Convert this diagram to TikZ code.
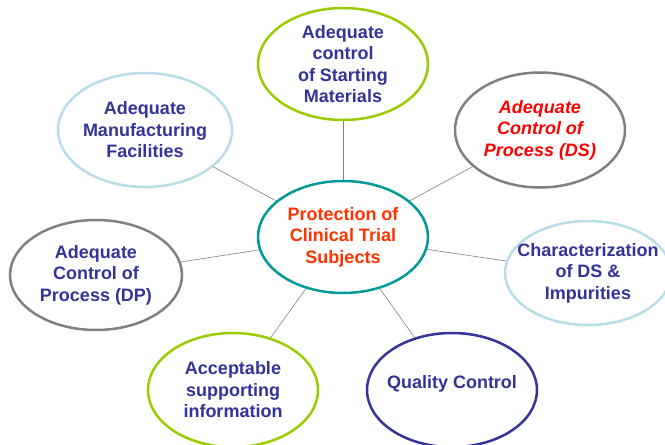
\documentclass[tikz,border=0pt]{standalone}
\usepackage{fontspec}
\setmainfont{Liberation Sans}
\usetikzlibrary{shapes.geometric}
\definecolor{navytext}{RGB}{51,51,153}
\definecolor{limering}{RGB}{153,204,0}
\definecolor{icering}{RGB}{183,222,232}
\definecolor{greyring}{RGB}{128,128,128}
\definecolor{tealring}{RGB}{0,153,153}
\definecolor{hottext}{RGB}{255,51,0}
\tikzset{
	x=1pt, y=-1pt, % coordinates read as pixels of the page
	every node/.style={font=\bfseries\fontsize{18}{21.5}\selectfont, align=center},
	bubble/.style={ellipse, draw, line width=2.5pt, inner xsep=-15pt, inner ysep=0pt, text=navytext}, % the outer topics
	link/.style={draw=gray, line width=0.6pt}, % thin spokes to the hub
}

\begin{document}
\begin{tikzpicture}
		\useasboundingbox (0,0) rectangle (665,445);
		\node[bubble, draw=tealring, text=hottext, minimum width=170, minimum height=112] (hub) at (343,237) {Protection of\\Clinical Trial\\Subjects};
		\node[bubble, draw=limering, minimum width=170, minimum height=112] (start) at (343,64) {Adequate\\control\\of Starting\\Materials};
		\node[bubble, draw=greyring, text=red, font=\bfseries\itshape\fontsize{18}{21.5}\selectfont, minimum width=170, minimum height=115] (procds) at (540,130) {Adequate\\Control of\\Process (DS)};
		\node[bubble, draw=icering, minimum width=174, minimum height=114] (manuf) at (145,130) {Adequate\\Manufacturing\\Facilities};
		\node[bubble, draw=icering, minimum width=166, minimum height=104] (charact) at (588,273) {Characterization\\of DS \&\\Impurities};
		\node[bubble, draw=greyring, minimum width=172, minimum height=110] (procdp) at (96,275) {Adequate\\Control of\\Process (DP)};
		\node[bubble, draw=limering, minimum width=170, minimum height=114] (support) at (233,390) {Acceptable\\supporting\\information};
		\node[bubble, draw=navytext, text depth=16pt, minimum width=170, minimum height=114] (qc) at (452,390) {Quality Control};

		\draw[link] (hub) -- (start);
		\draw[link] (hub) -- (procds);
		\draw[link] (hub) -- (manuf);
		\draw[link] (hub) -- (charact);
		\draw[link] (hub) -- (procdp);
		\draw[link] (hub) -- (support);
		\draw[link] (hub) -- (qc);
\end{tikzpicture}
\end{document}
